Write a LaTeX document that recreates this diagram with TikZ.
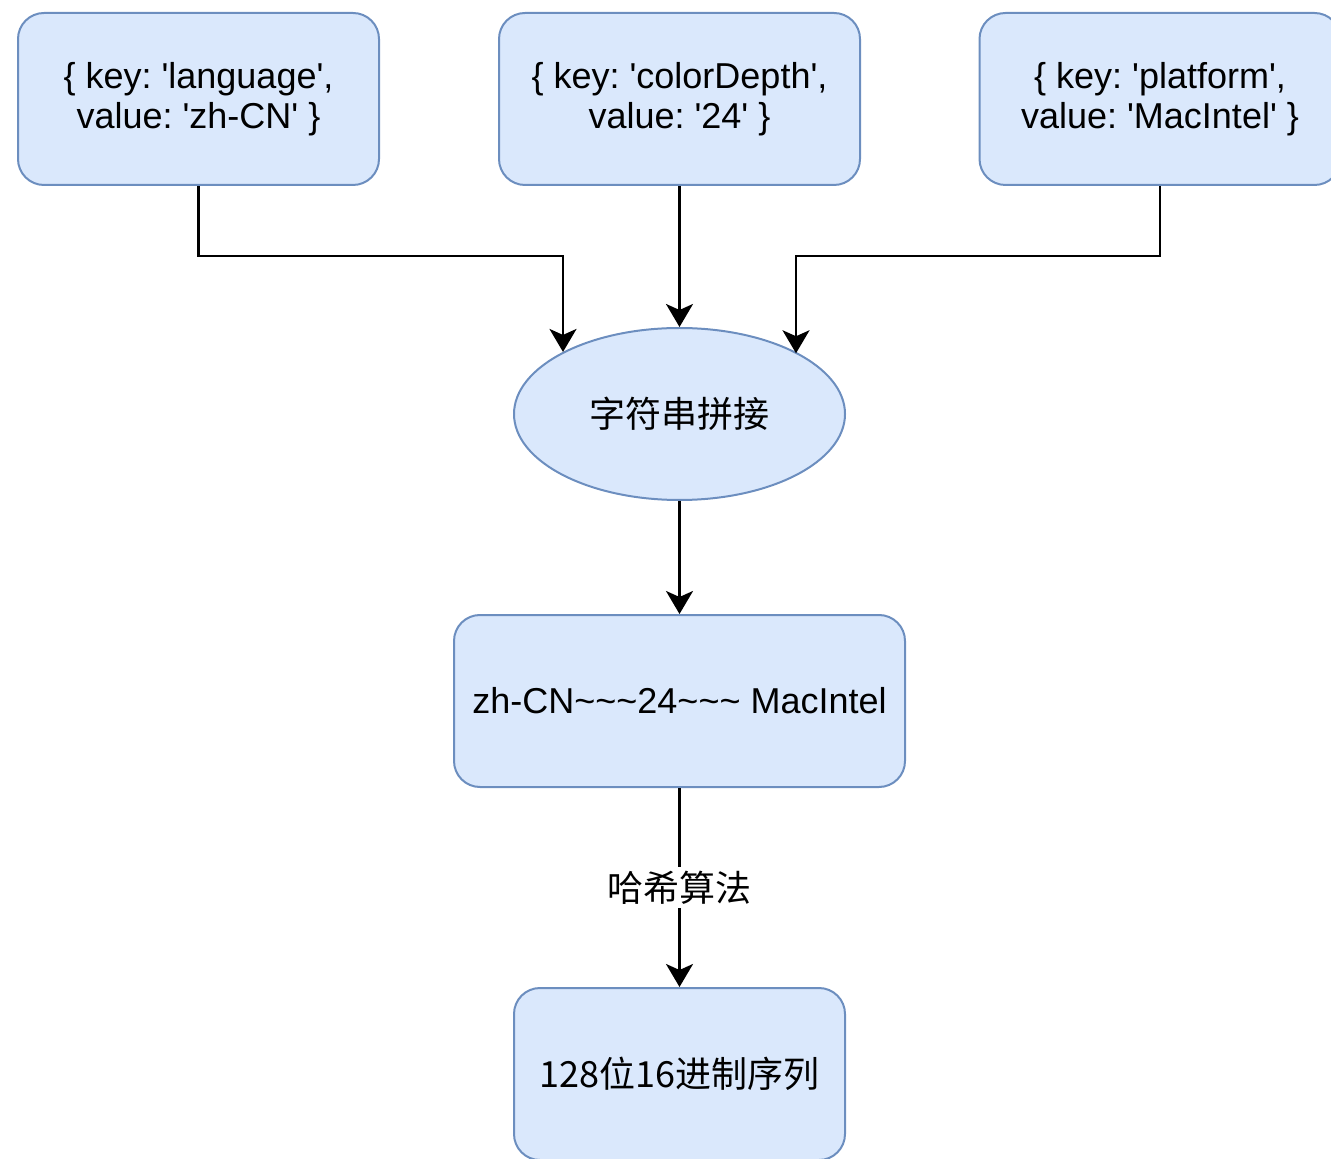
\documentclass[tikz,border=0pt]{standalone}
\usepackage{fontspec}
\setmainfont{Liberation Sans}[Ligatures=TeXOff]
\newfontfamily\cjk{Noto Sans CJK SC}
\usetikzlibrary{shapes.geometric,arrows.meta}
\definecolor{boxfill}{HTML}{DAE8FC}
\definecolor{boxline}{HTML}{6C8EBF}
\frenchspacing

\begin{document}
\begin{tikzpicture}[x=0.5pt, y=-0.5pt,
    kvbox/.style={draw=boxline, fill=boxfill, line width=1pt, rounded corners=13pt,
        minimum width=180.5pt, minimum height=86pt, inner sep=0pt, align=center,
        font=\fontsize{18}{20}\selectfont},
    joinell/.style={ellipse, draw=boxline, fill=boxfill, line width=1pt,
        minimum width=165.5pt, minimum height=86pt, inner sep=0pt,
        font=\cjk\fontsize{18}{20}\selectfont},
    flow/.style={-{Stealth[length=11.5pt, width=13.5pt, inset=3pt]}, line width=1.2pt}]
    \useasboundingbox (0,0) rectangle (1331,1159);

    % Eingaben (oben)
    \node[kvbox] (lang) at (198.5,99) {\{ key: 'language',\\value: 'zh-CN' \}};
    \node[kvbox] (depth) at (679.5,99) {\{ key: 'colorDepth',\\value: '24' \}};
    \node[kvbox] (plat) at (1160,99) {\{ key: 'platform',\\value: 'MacIntel' \}};

    % Verarbeitung
    \node[joinell] (concat) at (679.5,414) {字符串拼接};
    \node[kvbox, minimum width=225.5pt] (joined) at (679.5,701)
        {zh-CN\textasciitilde\textasciitilde\textasciitilde 24\textasciitilde\textasciitilde\textasciitilde{} MacIntel};
    \node[kvbox, minimum width=165.5pt, font=\cjk\fontsize{18}{20}\selectfont] (hash) at (679.5,1074) {128位16进制序列};

    % Verbindungen
    \coordinate (bendl) at (563,256);
    \coordinate (bendr) at (796,256);
    \draw[flow] (lang.south) |- (bendl) -- (bendl |- concat.152.3);
    \draw[flow] (depth.south) -- (concat.north);
    \draw[flow] (plat.south) |- (bendr) -- (bendr |- concat.27.7);
    \draw[flow] (concat.south) -- (joined.north);
    \draw[flow] (joined.south) -- (hash.north)
        node[midway, fill=white, inner sep=2pt, font=\cjk\fontsize{18}{20}\selectfont] (algo) {哈希算法};
\end{tikzpicture}
\end{document}
